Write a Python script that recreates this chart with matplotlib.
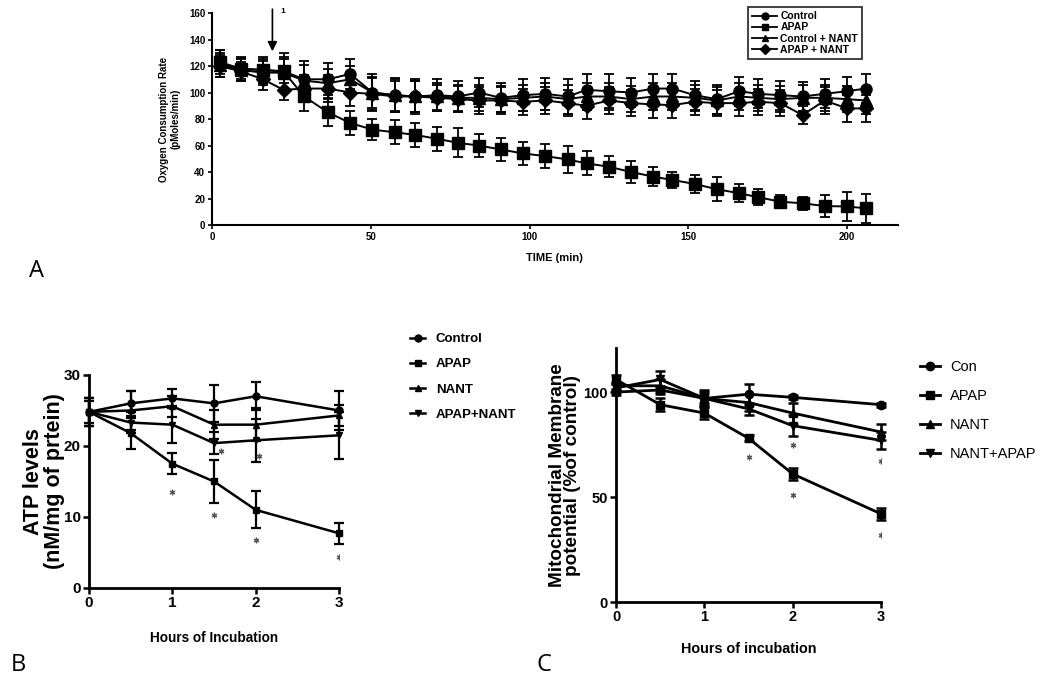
import numpy as np
import matplotlib
matplotlib.use("Agg")
import matplotlib.pyplot as plt
from matplotlib.lines import Line2D

SANS = "Liberation Sans"
plt.rcParams['font.family'] = [SANS, 'DejaVu Sans']

# ---------------- Panel A data ----------------
a_time = [2.5, 9, 16, 22.5, 29, 36.5, 43.5, 50.5, 57.5, 64, 71, 77.5, 84, 91, 98,
          105, 112, 118, 125, 132, 139, 145, 152, 159, 166, 172, 179, 186, 193, 200, 206]
a_control = [122, 118, 117, 116, 110, 110, 114, 100, 98, 97, 98, 97, 100, 96, 98,
             99, 97, 102, 101, 100, 103, 103, 98, 95, 101, 99, 98, 97, 99, 101, 103]
a_apap = [123, 118, 117, 116, 97, 85, 77, 72, 70, 68, 65, 62, 60, 57, 54,
          52, 49.5, 46.5, 44, 40, 36.5, 34, 31, 27, 24, 21, 17.6, 16.4, 14.3, 14, 12.6]
a_ctrl_nant = [121, 117, 115, 115, 109, 107, 110, 100, 98, 97, 97, 96, 96, 95, 96,
               97, 95, 97, 97, 95, 97, 97, 96, 94, 97, 96, 95, 96, 96, 95, 94]
a_apap_nant = [120, 116, 110, 102, 103, 103, 100, 99, 97, 97, 96, 95, 94, 94, 93,
               94, 92, 90, 94, 92, 91, 90.5, 93, 92, 92, 93, 92, 83, 94, 88, 88]
a_err_control = [10, 9, 10, 14, 14, 12, 11, 14, 13, 13, 12, 12, 11, 11, 12,
                 12, 13, 12, 13, 11, 11, 11, 11, 11, 11, 11, 11, 11, 11, 11, 11]
a_err_apap = [9, 8, 8, 9, 11, 10, 9, 8, 9, 9, 9, 11, 9, 9, 9,
              9, 10, 9, 8, 8, 7, 6, 7, 9, 7, 6, 5, 5, 8, 11, 11]
a_err_ctrl_nant = [9, 8, 9, 12, 12, 11, 10, 12, 12, 12, 10, 10, 10, 10, 10,
                   10, 11, 10, 10, 10, 10, 10, 10, 10, 10, 10, 10, 10, 10, 10, 10]
a_err_apap_nant = [8, 7, 8, 8, 10, 10, 10, 12, 12, 12, 10, 10, 10, 10, 10,
                   10, 10, 10, 10, 10, 10, 10, 10, 10, 10, 10, 10, 7, 10, 10, 10]
a_labels = ["Control", "APAP", "Control + NANT", "APAP + NANT"]
a_xticks = [0, 50, 100, 150, 200]
a_yticks = [0, 20, 40, 60, 80, 100, 120, 140, 160]
arrow_time = 19

# ---------------- Panel B data ----------------
b_time = [0, 0.5, 1, 1.5, 2, 3]
b_control = [24.8, 26.0, 26.7, 26.0, 27.0, 25.0]
b_apap = [24.8, 21.8, 17.5, 15.0, 11.0, 7.7]
b_nant = [24.8, 25.0, 25.6, 23.0, 23.0, 24.3]
b_apap_nant = [24.8, 23.3, 23.0, 20.4, 20.8, 21.5]
b_err_control = [2.0, 1.8, 1.3, 2.6, 2.0, 2.7]
b_err_apap = [1.5, 2.2, 1.5, 3.0, 2.6, 1.5]
b_err_nant = [2.0, 2.8, 1.5, 2.0, 2.3, 1.5]
b_err_apap_nant = [2.0, 1.5, 2.6, 1.6, 3.0, 3.3]
b_labels = ["Control", "APAP", "NANT", "APAP+NANT"]
b_star_x = [1, 1.5, 2, 3, 1.58, 2.04]
b_star_y = [13.5, 10.3, 6.8, 4.3, 19.3, 18.6]

# ---------------- Panel C data ----------------
c_time = [0, 0.5, 1, 1.5, 2, 3]
c_con = [100, 101, 97, 99, 97.5, 94]
c_apap = [106, 94, 90, 78, 61, 42]
c_nant = [103, 103, 97, 95, 90, 81]
c_nant_apap = [102, 106, 97, 92, 84, 77]
c_err_con = [1.5, 2, 2, 5, 1, 1]
c_err_apap = [2, 3, 3, 1.5, 3, 3]
c_err_nant = [2, 3, 4, 4, 5, 4]
c_err_nant_apap = [2, 4, 3, 3, 5, 4]
c_labels = ["Con", "APAP", "NANT", "NANT+APAP"]
c_star_x = [1.5, 2, 2, 3, 3]
c_star_y = [69, 75, 51, 67, 32]

fig = plt.figure(figsize=(10.5, 6.86), dpi=100)


def style_axes(ax, lw):
    for s in ['top', 'right']:
        ax.spines[s].set_visible(False)
    for s in ['left', 'bottom']:
        ax.spines[s].set_linewidth(lw)


# ======== Panel A ========
axA = fig.add_axes([0.202, 0.672, 0.653, 0.309])
markersA = ['o', 's', '^', 'D']
sizesA = [8, 8, 8, 7]
seriesA = [a_control, a_apap, a_ctrl_nant, a_apap_nant]
errsA = [a_err_control, a_err_apap, a_err_ctrl_nant, a_err_apap_nant]
for vals, err, m, ms in zip(seriesA, errsA, markersA, sizesA):
    axA.errorbar(a_time, vals, yerr=err, color='black', marker=m, markersize=ms,
                 linewidth=1.4, elinewidth=1.3, capsize=3.5, capthick=1.3, clip_on=False)
axA.set_xlim(0, 216)
axA.set_ylim(0, 160)
axA.set_xticks(a_xticks)
axA.set_yticks(a_yticks)
style_axes(axA, 1.5)
axA.tick_params(axis='both', direction='out', length=3, width=1.2, labelsize=7, pad=2)
for t in axA.get_xticklabels() + axA.get_yticklabels():
    t.set_fontweight('bold')
axA.set_xlabel("TIME (min)", fontsize=8, fontweight='bold', labelpad=8)
axA.set_ylabel("Oxygen Consumption Rate\n(pMoles/min)", fontsize=7, fontweight='bold', labelpad=6)
axA.annotate("", xy=(arrow_time, 129), xytext=(arrow_time, 165),
             arrowprops=dict(arrowstyle='-|>', color='black', lw=1.2, mutation_scale=14),
             annotation_clip=False)
axA.text(arrow_time + 2.5, 161, "1", fontsize=6, fontweight='bold', ha='left', va='center')
handlesA = [Line2D([], [], color='black', marker=m, markersize=5, linewidth=1.3) for m in markersA]
legA = fig.legend(handles=handlesA, labels=a_labels, loc='upper left',
                  bbox_to_anchor=(748 / 1050, 1 - 7 / 686), frameon=True, fancybox=False,
                  edgecolor='black', fontsize=7.5, handlelength=2.4, borderpad=0.4,
                  labelspacing=0.12, handletextpad=0.3, borderaxespad=0)
legA.get_frame().set_linewidth(1.3)
for t in legA.get_texts():
    t.set_fontweight('bold')
fig.text(0.028, 0.605, "A", fontsize=17, family='Open Sans', va='center')

# ======== Panel B ========
axB = fig.add_axes([0.0848, 0.1429, 0.2381, 0.3105])
markersB = ['o', 's', '^', 'v']
seriesB = [b_control, b_apap, b_nant, b_apap_nant]
errsB = [b_err_control, b_err_apap, b_err_nant, b_err_apap_nant]
for vals, err, m in zip(seriesB, errsB, markersB):
    axB.errorbar(b_time, vals, yerr=err, color='black', marker=m, markersize=5,
                 linewidth=1.8, elinewidth=1.6, capsize=3.5, capthick=1.6, clip_on=False)
axB.plot(b_star_x, b_star_y, linestyle='none', marker=(6, 2, 0), markersize=4,
         color='#555555', markeredgewidth=0.9)
axB.set_xlim(0, 3)
axB.set_ylim(0, 30)
axB.set_xticks([0, 1, 2, 3])
axB.set_yticks([0, 10, 20, 30])
style_axes(axB, 2)
axB.tick_params(axis='both', direction='out', length=4, width=1.8, labelsize=11, pad=2)
for t in axB.get_xticklabels() + axB.get_yticklabels():
    t.set_fontweight('bold')
axB.set_xlabel("Hours of Incubation", fontsize=9.8, fontweight='bold', labelpad=15)
axB.set_ylabel("ATP levels\n(nM/mg of prtein)", fontsize=15.5, fontweight='bold', labelpad=-1,
               linespacing=1.0)
handlesB = [Line2D([], [], color='black', marker=m, markersize=5, linewidth=1.8) for m in markersB]
legB = fig.legend(handles=handlesB, labels=b_labels, loc='upper left',
                  bbox_to_anchor=(410 / 1050, 1 - 333 / 686), frameon=False, fontsize=9.5,
                  handlelength=1.15, labelspacing=0.98, handletextpad=0.8, borderpad=0,
                  borderaxespad=0)
for t in legB.get_texts():
    t.set_fontweight('bold')
fig.text(0.010, 0.030, "B", fontsize=17, family='Open Sans', va='center')

# ======== Panel C ========
axC = fig.add_axes([0.5867, 0.1224, 0.2524, 0.3703])
markersC = ['o', 's', '^', 'v']
seriesC = [c_con, c_apap, c_nant, c_nant_apap]
errsC = [c_err_con, c_err_apap, c_err_nant, c_err_nant_apap]
for vals, err, m in zip(seriesC, errsC, markersC):
    axC.errorbar(c_time, vals, yerr=err, color='black', marker=m, markersize=6,
                 linewidth=2, elinewidth=1.8, capsize=3.5, capthick=1.8, clip_on=False)
axC.plot(c_star_x, c_star_y, linestyle='none', marker=(6, 2, 0), markersize=4,
         color='#555555', markeredgewidth=0.9)
axC.set_xlim(0, 3)
axC.set_ylim(0, 121)
axC.set_xticks([0, 1, 2, 3])
axC.set_yticks([0, 50, 100])
style_axes(axC, 2)
axC.tick_params(axis='both', direction='out', length=4, width=1.8, labelsize=10.5, pad=2)
for t in axC.get_xticklabels() + axC.get_yticklabels():
    t.set_fontweight('bold')
axC.set_xlabel("Hours of incubation", fontsize=10.4, fontweight='bold', labelpad=13)
axC.set_ylabel("Mitochondrial Membrane\npotential (%of control)", fontsize=13.6, fontweight='bold',
               labelpad=1.5, linespacing=0.85)
handlesC = [Line2D([], [], color='black', marker=m, markersize=6, linewidth=2) for m in markersC]
legC = fig.legend(handles=handlesC, labels=c_labels, loc='upper left',
                  bbox_to_anchor=(920 / 1050, 1 - 360 / 686), frameon=False, fontsize=10.5,
                  handlelength=1.35, labelspacing=1.02, handletextpad=0.7, borderpad=0,
                  borderaxespad=0)
fig.text(0.511, 0.030, "C", fontsize=17, family='Open Sans', va='center')

fig.savefig("out.png", dpi=100, facecolor='white')
